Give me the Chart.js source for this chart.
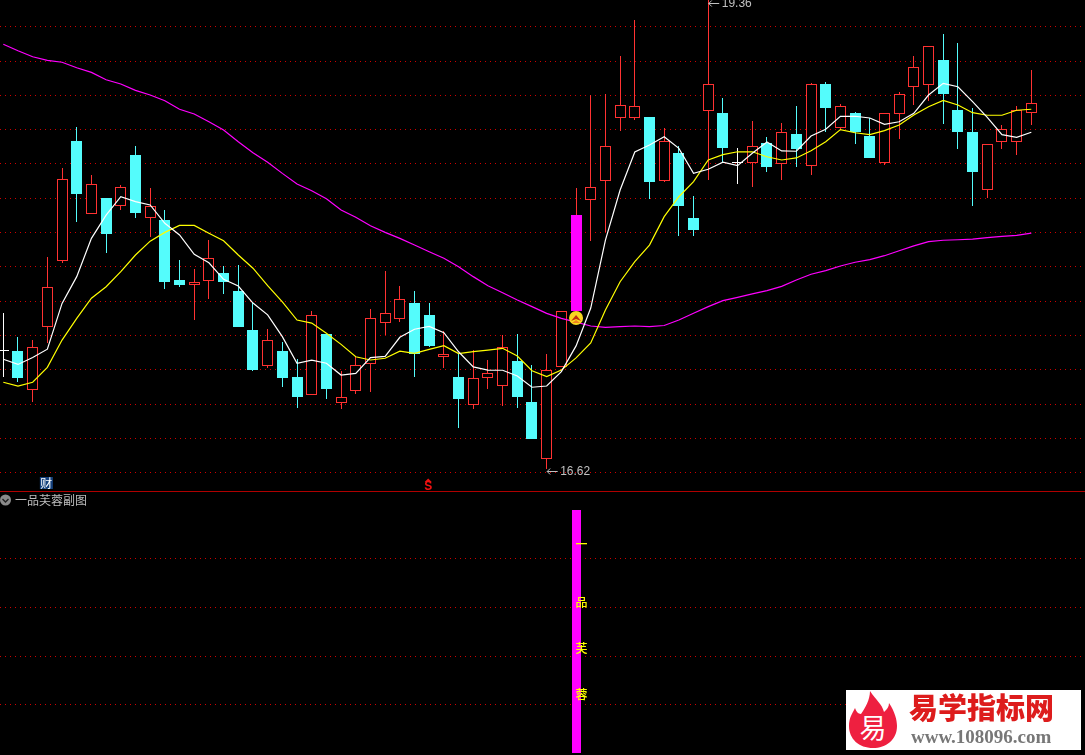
<!DOCTYPE html>
<html>
<head>
<meta charset="utf-8">
<title>一品芙蓉副图</title>
<script src="https://cdn.jsdelivr.net/npm/chart.js@4"></script>
<style>
    html, body { margin: 0; background: #000; overflow: hidden; }
    #stage { position: relative; width: 1085px; height: 755px; background: #000; }
    canvas { position: absolute; left: 0; display: block; }
    #grafK { top: 0; }
    #grafSub { top: 492px; }
    #sep { position: absolute; left: 0; top: 491px; width: 1085px; height: 1px; background: #b00000; }
    #titol { position: absolute; left: 15px; top: 492px; color: #bdbdbd; font: 12px/16px "Noto Sans CJK SC"; }
    #logo { position: absolute; left: 846px; top: 690px; width: 235px; height: 60px; background: #fff; }
    #logo svg { position: absolute; left: 0; top: 0; }
    #logo .nom { position: absolute; left: 63px; top: 0; color: #dd1c1c; font: 900 29px/32px "Noto Sans CJK SC"; white-space: nowrap; }
    #logo .web { position: absolute; left: 65px; top: 36px; color: #777; font: bold 19px/22px "Liberation Serif"; white-space: nowrap; }
</style>
</head>
<body>
<div id="stage">
    <canvas id="grafK" width="1085" height="491"></canvas>
    <div id="sep"></div>
    <canvas id="grafSub" width="1085" height="263"></canvas>
    <svg width="12" height="12" style="position:absolute;left:0;top:494px">
        <circle cx="5.5" cy="6" r="5.5" fill="#8a8a8a"/>
        <path d="M2.5 5 L5.5 8 L8.5 5" stroke="#222" stroke-width="1.4" fill="none"/>
    </svg>
    <div id="titol">一品芙蓉副图</div>
    <div id="logo">
        <svg width="60" height="60">
            <path d="M24 1 C30 10 36 14 38 22 C41 19 43 17 43 13 C49 22 51 30 51 36 C51 50 40 58 27 58 C13 58 3 49 3 36 C3 28 6 24 9 18 C10 21 12 24 15 24 C19 18 24 10 24 1 Z" fill="#ee2040"/>
            <text x="27" y="48" text-anchor="middle" fill="#fff" font-family="Noto Sans CJK SC" font-size="27">易</text>
        </svg>
        <div class="nom">易学指标网</div>
        <div class="web">www.108096.com</div>
    </div>
</div>
<script>
const highs = [17.531, 17.391, 17.373, 17.857, 18.375, 18.614, 18.336, 18.201, 18.277, 18.505,
    18.258, 18.132, 17.840, 17.787, 17.957, 17.805, 17.811, 17.589, 17.438, 17.362,
    17.263, 17.543, 17.408, 17.195, 17.276, 17.553, 17.774, 17.688, 17.659, 17.589,
    17.426, 17.296, 17.315, 17.257, 17.401, 17.408, 17.228, 17.292, 17.541, 18.260,
    18.802, 18.808, 19.030, 19.239, 18.674, 18.610, 18.505, 18.213, 19.360, 18.785,
    18.493, 18.650, 18.557, 18.639, 18.738, 18.870, 18.878, 18.750, 18.703, 18.668,
    18.695, 18.820, 19.030, 19.086, 19.158, 19.105, 18.726, 18.515, 18.627, 18.738, 18.948];
const lows = [17.159, 17.130, 17.012, 17.354, 17.824, 18.063, 18.110, 17.883, 18.132, 18.085,
    17.976, 17.673, 17.684, 17.492, 17.613, 17.642, 17.449, 17.195, 17.212, 17.099,
    16.979, 17.055, 17.029, 16.973, 17.060, 17.072, 17.403, 17.480, 17.158, 17.333,
    17.210, 16.860, 16.973, 17.088, 16.990, 16.979, 16.796, 16.620, 17.218, 17.543,
    17.952, 18.005, 18.594, 18.658, 18.197, 18.295, 17.982, 17.982, 18.308, 18.406,
    18.283, 18.266, 18.353, 18.306, 18.382, 18.336, 18.586, 18.598, 18.516, 18.435,
    18.396, 18.546, 18.744, 18.767, 18.633, 18.487, 18.155, 18.201, 18.487, 18.452, 18.627];
const opens = [17.309, 17.309, 17.084, 17.447, 17.836, 18.534, 18.110, 18.201, 18.157, 18.452,
    18.087, 18.073, 17.723, 17.696, 17.719, 17.764, 17.659, 17.432, 17.224, 17.309,
    17.158, 17.055, 17.408, 17.008, 17.078, 17.235, 17.474, 17.498, 17.589, 17.519,
    17.276, 17.158, 16.996, 17.154, 17.107, 17.251, 17.012, 16.681, 17.218, 17.543,
    18.192, 18.302, 18.670, 18.670, 18.674, 18.302, 18.464, 18.085, 18.711, 18.697,
    18.406, 18.407, 18.522, 18.401, 18.575, 18.390, 18.866, 18.611, 18.697, 18.563,
    18.407, 18.693, 18.850, 18.862, 19.006, 18.715, 18.586, 18.250, 18.530, 18.530, 18.699];
const closes = [17.309, 17.154, 17.331, 17.681, 18.311, 18.225, 18.281, 17.992, 18.264, 18.114,
    18.153, 17.712, 17.694, 17.710, 17.850, 17.712, 17.449, 17.199, 17.372, 17.152,
    17.041, 17.518, 17.088, 17.039, 17.226, 17.500, 17.529, 17.611, 17.294, 17.338,
    17.290, 17.029, 17.150, 17.179, 17.331, 17.041, 16.796, 17.197, 17.541, 18.102,
    18.264, 18.503, 18.742, 18.736, 18.295, 18.532, 18.155, 18.015, 18.864, 18.493,
    18.406, 18.503, 18.382, 18.585, 18.487, 18.864, 18.726, 18.736, 18.586, 18.435,
    18.695, 18.806, 18.964, 19.086, 18.808, 18.586, 18.353, 18.515, 18.602, 18.715, 18.754];

// mitjanes mòbils
const maBlanc = [17.261, 17.231, 17.271, 17.320, 17.587, 17.743, 17.966, 18.102, 18.209, 18.180,
    18.161, 18.054, 17.986, 17.873, 17.824, 17.727, 17.688, 17.589, 17.520, 17.393,
    17.238, 17.256, 17.238, 17.169, 17.179, 17.271, 17.278, 17.389, 17.436, 17.453,
    17.416, 17.305, 17.217, 17.198, 17.197, 17.164, 17.098, 17.105, 17.189, 17.339,
    17.560, 17.956, 18.248, 18.470, 18.511, 18.559, 18.491, 18.345, 18.369, 18.410,
    18.390, 18.462, 18.528, 18.476, 18.474, 18.563, 18.602, 18.678, 18.678, 18.668,
    18.631, 18.646, 18.695, 18.802, 18.870, 18.850, 18.763, 18.672, 18.571, 18.555, 18.585];
const maGroc = [17.127, 17.105, 17.127, 17.214, 17.373, 17.500, 17.617, 17.684, 17.772, 17.869,
    17.950, 18.001, 18.042, 18.042, 17.996, 17.952, 17.869, 17.792, 17.690, 17.596,
    17.490, 17.472, 17.413, 17.348, 17.276, 17.257, 17.267, 17.308, 17.296, 17.319,
    17.340, 17.294, 17.306, 17.315, 17.325, 17.280, 17.194, 17.160, 17.198, 17.269,
    17.356, 17.548, 17.713, 17.831, 17.927, 18.093, 18.209, 18.297, 18.423, 18.454,
    18.471, 18.471, 18.442, 18.423, 18.435, 18.477, 18.529, 18.600, 18.582, 18.571,
    18.594, 18.627, 18.685, 18.734, 18.771, 18.744, 18.699, 18.684, 18.684, 18.713, 18.719];
const maLila = [19.098, 19.060, 19.025, 19.004, 18.993, 18.961, 18.934, 18.891, 18.866, 18.829,
    18.802, 18.769, 18.719, 18.691, 18.646, 18.598, 18.530, 18.466, 18.410, 18.345,
    18.283, 18.244, 18.197, 18.131, 18.089, 18.040, 18.001, 17.966, 17.927, 17.888,
    17.850, 17.801, 17.743, 17.690, 17.649, 17.607, 17.568, 17.529, 17.500, 17.478,
    17.455, 17.447, 17.451, 17.455, 17.451, 17.458, 17.490, 17.529, 17.568, 17.603,
    17.622, 17.642, 17.661, 17.686, 17.723, 17.757, 17.778, 17.805, 17.827, 17.842,
    17.865, 17.894, 17.922, 17.947, 17.955, 17.958, 17.962, 17.970, 17.978, 17.984, 17.997];

const gridPreu = [19.2, 19.0, 18.8, 18.6, 18.4, 18.2, 18.0, 17.8, 17.6, 17.4, 17.2, 17.0, 16.8, 16.6];
const gridSub = [20, 40, 60, 80];
const senyalIdx = 39;
const senyalPreu = 17.502;
const senyalAlt = 100;
const senyalText = ['一', '品', '芙', '蓉'];
const senyalNivells = [85.8, 61.9, 43.3, 24.3];
const maxIdx = 48;
const minIdx = 37;
const eventCai = 3;
const eventS = 29;

const COLORS = {
    vermell: '#ff3232', cian: '#54fcfc', lila: '#ff00ff',
    groc: '#ffff00', blanc: '#ffffff', gris: '#c0c0c0', graella: '#d00000'
};

const xMin = -0.225, xMax = 73.655;
const idx = opens.map((_, i) => i);

function colorEspelma(i) {
    if (i === senyalIdx) return COLORS.vermell;
    if (opens[i] === closes[i]) return COLORS.blanc;
    return closes[i] > opens[i] ? COLORS.vermell : COLORS.cian;
}

function colorCos(i) {
    if (i === senyalIdx) return COLORS.lila;
    return colorEspelma(i);
}

function farciment(i) {
    if (i === senyalIdx) return COLORS.lila;
    if (opens[i] === closes[i]) return COLORS.blanc;
    return closes[i] > opens[i] ? '#000000' : COLORS.cian;
}

function liniaMa(valors, color, ordre) {
    return {
        type: 'line',
        data: valors.map((v, i) => ({ x: i, y: v })),
        borderColor: color,
        borderWidth: 1.2,
        pointRadius: 0,
        tension: 0,
        fill: false,
        order: ordre
    };
}

function escalaX() {
    return { type: 'linear', min: xMin, max: xMax, offset: false, display: false };
}

function escalaY(min, max, ticks) {
    return {
        min, max,
        afterBuildTicks: scale => { scale.ticks = ticks.map(v => ({ value: v })); },
        ticks: { display: false },
        grid: { color: COLORS.graella, drawTicks: false, lineWidth: 1 },
        border: { display: false, dash: [1, 4] }
    };
}

// Ajusta les barres a píxels sencers perquè les vores quedin nítides
const barresNetes = {
    id: 'barresNetes',
    afterDatasetsUpdate(chart) {
        chart.getSortedVisibleDatasetMetas().forEach(meta => {
            if (meta.type !== 'bar') return;
            meta.data.forEach(el => {
                el.x = Math.floor(el.x) + 0.5;
                el.y = Math.round(el.y);
                el.base = Math.round(el.base);
                if (el.y === el.base) el.y = el.base - 1;
                el.height = el.base - el.y;
            });
        });
    }
};

// Etiquetes del panell principal
const marquesK = {
    id: 'marquesK',
    afterDatasetsDraw(chart) {
        const { ctx, scales: { x, y } } = chart;
        ctx.save();

        // etiquetes de màxim i mínim
        ctx.font = '12px "Liberation Sans"';
        ctx.fillStyle = COLORS.gris;
        ctx.strokeStyle = COLORS.gris;
        ctx.textBaseline = 'middle';
        [[maxIdx, 3, '19.36'], [minIdx, 471, '16.62']].forEach(([i, py, txt]) => {
            const px = x.getPixelForValue(i);
            ctx.beginPath();
            ctx.moveTo(px + 0.5, py + 0.5); ctx.lineTo(px + 11, py + 0.5);
            ctx.moveTo(px + 0.5, py + 0.5); ctx.lineTo(px + 3.5, py - 2.5);
            ctx.moveTo(px + 0.5, py + 0.5); ctx.lineTo(px + 3.5, py + 3.5);
            ctx.stroke();
            ctx.fillText(txt, px + 13.5, py + 0.5);
        });

        // icona de senyal
        const sx = x.getPixelForValue(senyalIdx), sy = y.getPixelForValue(senyalPreu);
        ctx.beginPath(); ctx.arc(sx, sy, 7, 0, Math.PI * 2); ctx.fillStyle = '#f8d820'; ctx.fill();
        ctx.beginPath();
        ctx.moveTo(sx - 5, sy + 3); ctx.lineTo(sx, sy - 3); ctx.lineTo(sx + 5, sy + 3); ctx.lineTo(sx, sy + 1); ctx.closePath();
        ctx.fillStyle = '#c03010'; ctx.fill();
        ctx.beginPath();
        ctx.moveTo(sx - 4, sy + 5); ctx.lineTo(sx, sy + 2); ctx.lineTo(sx + 4, sy + 5); ctx.closePath();
        ctx.fillStyle = '#f08020'; ctx.fill();

        // marques d'esdeveniment sota el gràfic
        const cx = x.getPixelForValue(eventCai);
        ctx.fillStyle = '#14407c';
        ctx.fillRect(cx - 7.5, 477, 13, 12);
        ctx.fillStyle = COLORS.blanc;
        ctx.font = '12px "Noto Sans CJK SC"';
        ctx.textAlign = 'center';
        ctx.fillText('财', cx - 1, 483);

        const ex = x.getPixelForValue(eventS);
        ctx.fillStyle = '#f01010';
        ctx.font = 'bold 12px "Liberation Sans"';
        ctx.fillText('S', ex - 1, 487);
        ctx.beginPath();
        ctx.moveTo(ex - 4.5, 482); ctx.lineTo(ex - 1, 478.5); ctx.lineTo(ex + 2.5, 482); ctx.closePath();
        ctx.fill();
        ctx.restore();
    }
};

// Text vertical sobre la barra del subgràfic
const textSub = {
    id: 'textSub',
    afterDatasetsDraw(chart) {
        const { ctx, scales: { x, y } } = chart;
        ctx.save();
        ctx.fillStyle = COLORS.groc;
        ctx.font = '500 12px "Noto Sans CJK SC"';
        ctx.textAlign = 'center';
        ctx.textBaseline = 'middle';
        senyalText.forEach((t, i) => {
            ctx.fillText(t, x.getPixelForValue(senyalIdx) + 5.5, y.getPixelForValue(senyalNivells[i]));
        });
        ctx.restore();
    }
};

Chart.defaults.animation = false;
Chart.register(barresNetes);

new Chart(document.getElementById('grafK'), {
    type: 'bar',
    data: {
        datasets: [
            {
                data: idx.map(i => ({ x: i, y: [lows[i], highs[i]] })),
                backgroundColor: idx.map(colorEspelma),
                barThickness: 1,
                inflateAmount: 0,
                grouped: false,
                order: 5
            },
            {
                data: idx.map(i => ({ x: i, y: [opens[i], closes[i]] })),
                backgroundColor: idx.map(farciment),
                borderColor: idx.map(colorCos),
                borderWidth: 1,
                borderSkipped: false,
                barThickness: 11,
                inflateAmount: 0,
                minBarLength: 1,
                grouped: false,
                order: 4
            },
            liniaMa(maLila, COLORS.lila, 3),
            liniaMa(maGroc, COLORS.groc, 2),
            liniaMa(maBlanc, COLORS.blanc, 1)
        ]
    },
    options: {
        responsive: false,
        layout: { padding: 0 },
        plugins: { legend: { display: false }, tooltip: { enabled: false } },
        scales: { x: escalaX(), y: escalaY(16.493, 19.356, gridPreu) }
    },
    plugins: [marquesK]
});

new Chart(document.getElementById('grafSub'), {
    type: 'bar',
    data: {
        datasets: [{
            data: [{ x: senyalIdx, y: senyalAlt }],
            backgroundColor: COLORS.lila,
            barThickness: 9,
            inflateAmount: 0,
            grouped: false
        }]
    },
    options: {
        responsive: false,
        layout: { padding: 0 },
        plugins: { legend: { display: false }, tooltip: { enabled: false } },
        scales: { x: escalaX(), y: escalaY(-0.8, 107.6, gridSub) }
    },
    plugins: [textSub]
});
</script>
</body>
</html>
